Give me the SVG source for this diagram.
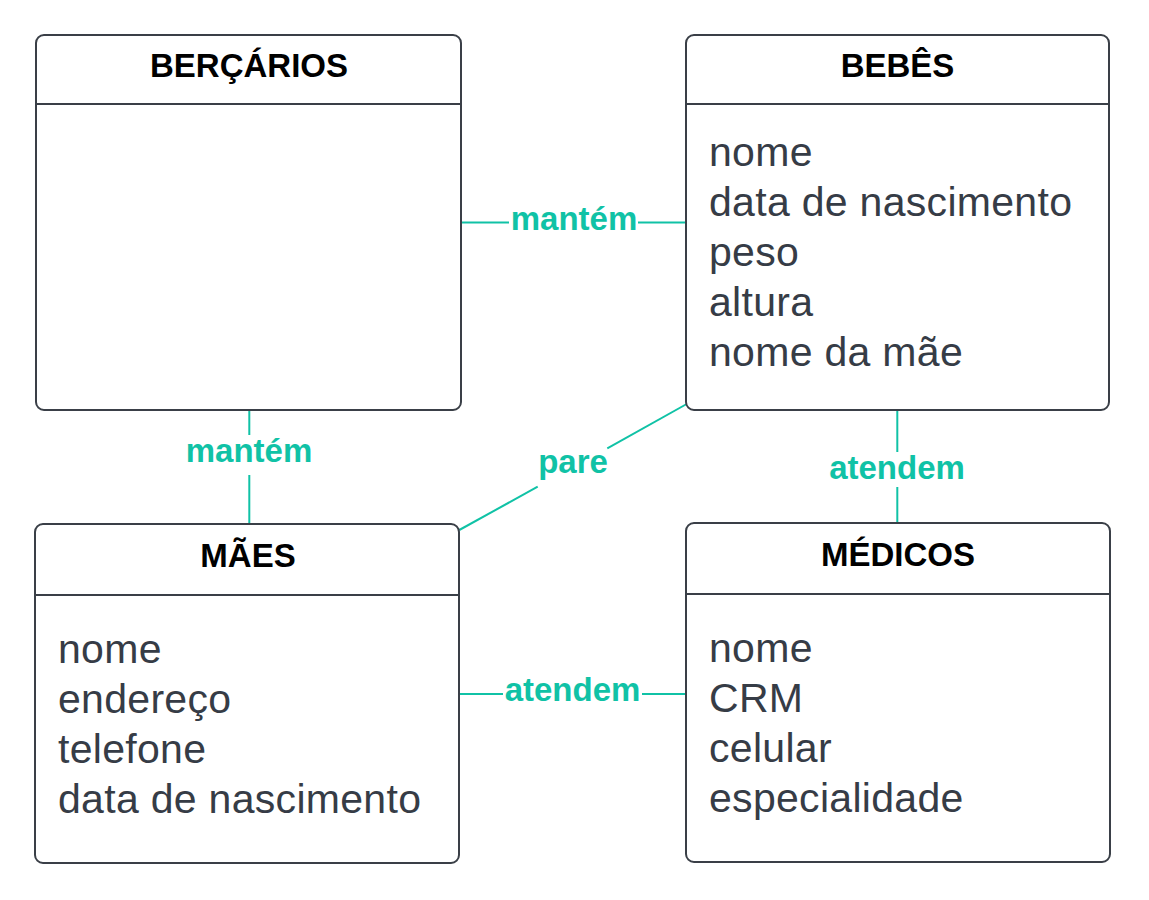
<svg xmlns="http://www.w3.org/2000/svg" width="1149" height="900" viewBox="0 0 1149 900">
<style>
.box{fill:#fff;stroke:#3a3f47;stroke-width:2}
.div{stroke:#3a3f47;stroke-width:2}
.title{font-family:"Liberation Sans",Arial,sans-serif;font-weight:bold;font-size:33px;fill:#000;text-anchor:middle}
.attr{font-family:"Liberation Sans",Arial,sans-serif;font-size:41px;letter-spacing:0.3px;fill:#363c46}
.conn{stroke:#10c2a6;stroke-width:2;fill:none}
.lbl{font-family:"Liberation Sans",Arial,sans-serif;font-weight:bold;font-size:33px;fill:#10c2a6;text-anchor:middle}
</style>
<rect width="1149" height="900" fill="#fff"/>
<g id="connectors">
<line class="conn" x1="461" y1="222.5" x2="509" y2="222.5"/>
<line class="conn" x1="638" y1="222.5" x2="686" y2="222.5"/>
<text class="lbl" x="574" y="230">mantém</text>
<line class="conn" x1="249.3" y1="410" x2="249.3" y2="435"/>
<line class="conn" x1="249.3" y1="475" x2="249.3" y2="524"/>
<text class="lbl" x="249" y="462">mantém</text>
<line class="conn" x1="686.7" y1="404" x2="607.3" y2="448.3"/>
<line class="conn" x1="537.7" y1="486.7" x2="459.3" y2="530"/>
<text class="lbl" x="573" y="473">pare</text>
<line class="conn" x1="897.3" y1="410" x2="897.3" y2="452"/>
<line class="conn" x1="897.3" y1="487" x2="897.3" y2="523"/>
<text class="lbl" x="897" y="479">atendem</text>
<line class="conn" x1="459" y1="694" x2="503" y2="694"/>
<line class="conn" x1="642" y1="694" x2="686" y2="694"/>
<text class="lbl" x="572.5" y="701">atendem</text>
</g>
<g id="bercarios">
<rect class="box" x="36" y="35" width="425" height="375" rx="8"/>
<line class="div" x1="36" y1="104" x2="461" y2="104"/>
<text class="title" x="249" y="77">BERÇÁRIOS</text>
</g>
<g id="bebes">
<rect class="box" x="686" y="35" width="423" height="375" rx="8"/>
<line class="div" x1="686" y1="104" x2="1109" y2="104"/>
<text class="title" x="897.5" y="77">BEBÊS</text>
<text class="attr" x="709" y="166">nome</text>
<text class="attr" x="709" y="216">data de nascimento</text>
<text class="attr" x="709" y="266">peso</text>
<text class="attr" x="709" y="316">altura</text>
<text class="attr" x="709" y="366">nome da mãe</text>
</g>
<g id="maes">
<rect class="box" x="35" y="524" width="424" height="339" rx="8"/>
<line class="div" x1="35" y1="595" x2="459" y2="595"/>
<text class="title" x="248" y="567">MÃES</text>
<text class="attr" x="58" y="663">nome</text>
<text class="attr" x="58" y="713">endereço</text>
<text class="attr" x="58" y="763">telefone</text>
<text class="attr" x="58" y="813">data de nascimento</text>
</g>
<g id="medicos">
<rect class="box" x="686" y="523" width="424" height="339" rx="8"/>
<line class="div" x1="686" y1="594" x2="1110" y2="594"/>
<text class="title" x="898" y="566">MÉDICOS</text>
<text class="attr" x="709" y="662">nome</text>
<text class="attr" x="709" y="712">CRM</text>
<text class="attr" x="709" y="762">celular</text>
<text class="attr" x="709" y="812">especialidade</text>
</g>
</svg>
